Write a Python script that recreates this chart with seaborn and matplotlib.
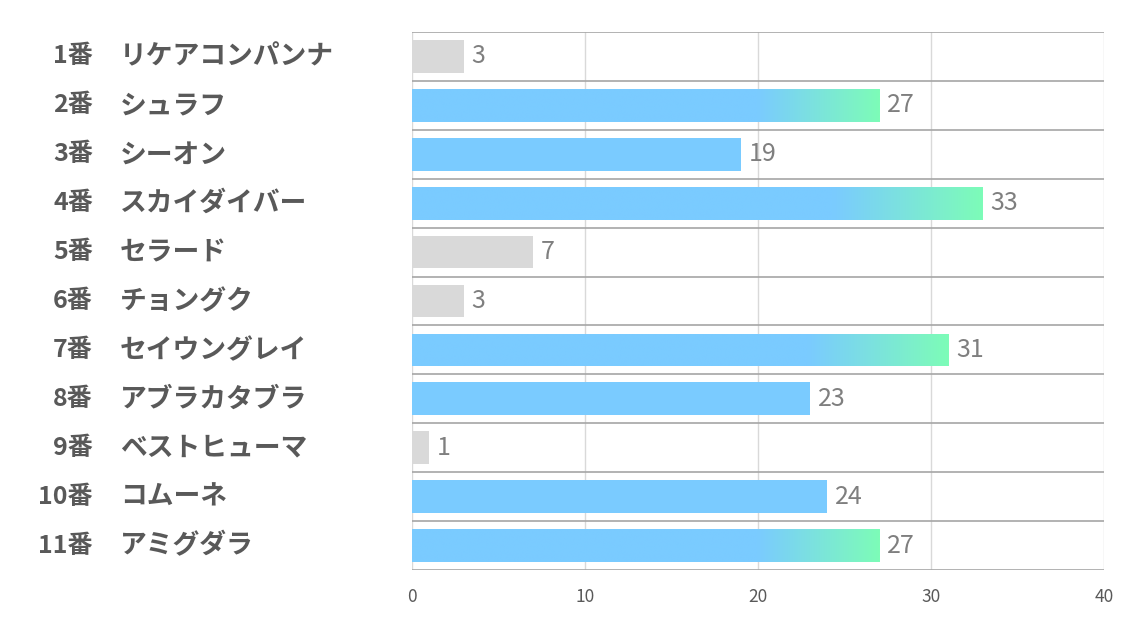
import matplotlib
matplotlib.use("Agg")
import matplotlib.pyplot as plt
import matplotlib.transforms as mtransforms
from matplotlib.colors import to_rgb
import numpy as np
import pandas as pd
import seaborn as sns

numbers = ["1番", "2番", "3番", "4番", "5番", "6番", "7番", "8番", "9番", "10番", "11番"]
names = ["リケアコンパンナ", "シュラフ", "シーオン", "スカイダイバー", "セラード", "チョングク",
         "セイウングレイ", "アブラカタブラ", "ベストヒューマ", "コムーネ", "アミグダラ"]
values = [3, 27, 19, 33, 7, 3, 31, 23, 1, 24, 27]
xticks = [0, 10, 20, 30, 40]

GREY = "#D9D9D9"
BLUE = "#7ACBFF"
GREEN = "#7DFCB8"
TXT = "#595959"

sns.set_theme(style="white")
plt.rcParams["font.family"] = ["Noto Sans CJK JP", "DejaVu Sans"]

def bar_color(v):
    if v < 10:
        return GREY
    return BLUE

df = pd.DataFrame({"key": [f"{n} {m}" for n, m in zip(numbers, names)], "value": values})
palette = [bar_color(v) for v in values]

fig = plt.figure(figsize=(11.34, 6.23), dpi=100)
ax = fig.add_axes([412 / 1134, 1 - 570 / 623, (1104 - 412) / 1134, (570 - 32) / 623])

sns.barplot(data=df, x="value", y="key", hue="key", palette=palette, legend=False,
            orient="h", width=0.67, ax=ax, saturation=1, zorder=2)

ax.set_xlim(0, 40)
ax.set_ylim(len(values) - 0.5, -0.5)

# gradient bars
for p, v in zip(ax.patches, values):
    p.set_linewidth(0)
    if v > 25:
        x0, y0 = p.get_x(), p.get_y()
        w, h = p.get_width(), p.get_height()
        n = 256
        t = np.linspace(0, 1, n)
        frac = np.clip((t - 0.74) / 0.26, 0, 1)
        c0 = np.array(to_rgb(BLUE))
        c1 = np.array(to_rgb(GREEN))
        img = (c0[None, :] * (1 - frac[:, None]) + c1[None, :] * frac[:, None])[None, :, :]
        im = ax.imshow(img, extent=[x0, x0 + w, y0 + h, y0], aspect="auto",
                       zorder=2.5, interpolation="bilinear")
        im.set_clip_path(p)

ax.set_xlim(0, 40)
ax.set_ylim(len(values) - 0.5, -0.5)

# grid
for x in xticks:
    ax.axvline(x, color="#D9D9D9", lw=1, zorder=1)
for y in np.arange(-0.5, len(values), 1.0):
    ax.axhline(y, color="#A6A6A6", lw=1.2, zorder=3)

for s in ax.spines.values():
    s.set_visible(False)

ax.set_xticks(xticks)
ax.set_xticklabels([str(x) for x in xticks], fontsize=12.5, color=TXT)
ax.tick_params(axis="x", length=0, pad=13)
ax.set_yticks([])
ax.set_xlabel("")
ax.set_ylabel("")

# value labels
for i, v in enumerate(values):
    ax.text(v + 0.45, i, str(v), va="center", ha="left", fontsize=18, color="#7F7F7F", zorder=4)

# category labels
trans = mtransforms.blended_transform_factory(fig.transFigure, ax.transData)
for i, (n, m) in enumerate(zip(numbers, names)):
    ax.text(93 / 1134, i, n, transform=trans, ha="right", va="center",
            fontsize=18, fontweight="bold", color=TXT)
    ax.text(120 / 1134, i, m, transform=trans, ha="left", va="center",
            fontsize=19.3, fontweight="bold", color=TXT)

fig.savefig("out.png", dpi=100)
